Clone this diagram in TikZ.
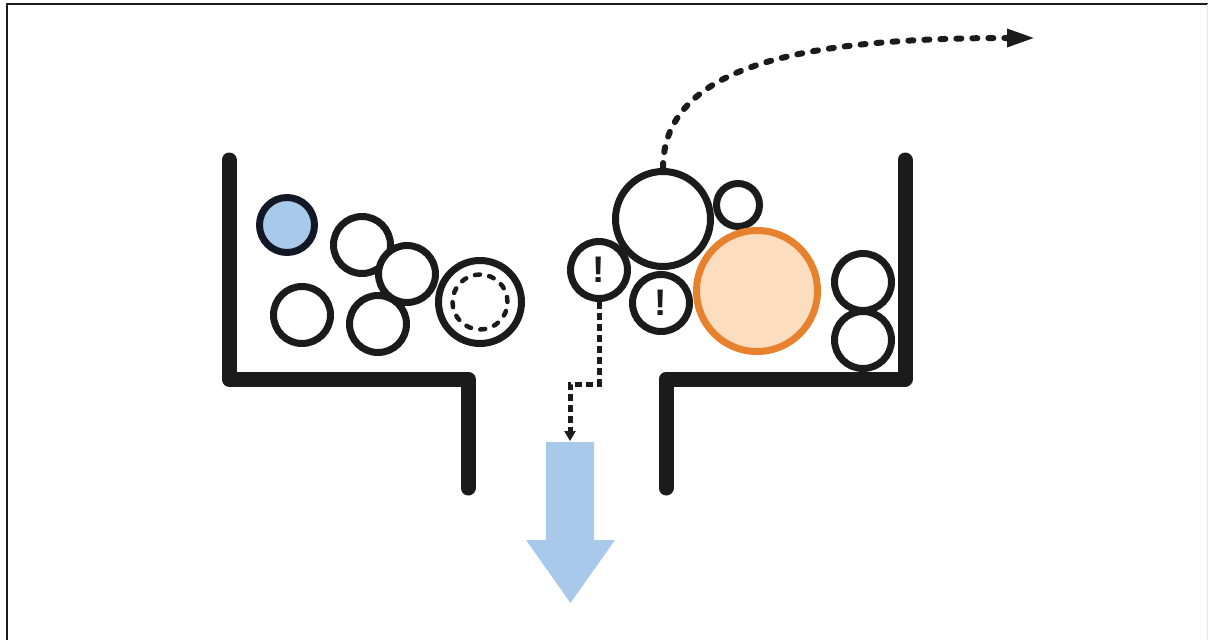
\documentclass[tikz,border=0pt]{standalone}
\usepackage{fontspec}
\setsansfont{Liberation Sans}
\usetikzlibrary{arrows.meta}
\definecolor{ink}{HTML}{1C1B1C}
\definecolor{navyink}{HTML}{141826}
\definecolor{skyblue}{HTML}{A9C9EA}
\definecolor{burnt}{HTML}{E8812D}
\definecolor{peach}{HTML}{FDDDBF}
\tikzset{
  wall/.style={line width=15pt, draw=ink, line cap=round, line join=round},
  ball/.style={circle, draw=ink, line width=7pt, fill=white, inner sep=0pt, minimum size=#1},
  bigball/.style={ball=121pt, draw=burnt, fill=peach},
  blueball/.style={ball=55pt, draw=navyink, fill=skyblue},
  warn/.style={font=\sffamily\bfseries\fontsize{37}{37}\selectfont, text=ink},
  flow/.style={draw=ink, line width=6pt, line cap=round, dash pattern=on 5pt off 11pt},
  leak/.style={draw=ink, line width=5pt, dash pattern=on 7pt off 4pt},
  ring/.style={draw=ink, line width=4.5pt, line cap=round, dash pattern=on 5pt off 9.4pt},
}
\begin{document}
\begin{tikzpicture}[x=1pt, y=-1pt]
  \useasboundingbox (0,0) rectangle (1208,640);
  % frame edges
  \draw[ink, line width=2pt] (6.5,640) -- (6.5,3.5) -- (1208,3.5);
  \draw[black!10, line width=1pt] (1207.5,4) -- (1207.5,640);

  % the two halves of the vessel
  \draw[wall] (229,160) -- (229,379) -- (468,379) -- (468,488);
  \draw[wall] (905,160) -- (905,379) -- (666,379) -- (666,488);

  % left chamber
  \node[blueball] (b1) at (287,225) {};
  \node[ball=57pt] (b2) at (362,245) {};
  \node[ball=57pt] (b3) at (407,274) {};
  \node[ball=57pt] (b4) at (302,315) {};
  \node[ball=57pt] (b5) at (378,324) {};
  \node[ball=83pt] (b6) at (480,302) {};
  \draw[ring] (b6.center) circle (27.5pt);

  % right chamber
  \node[ball=95pt] (big) at (663,219) {};
  \node[ball=43pt] (small) at (738,205) {};
  \node[ball=57pt] (e1) at (599,270) {};
  \node[warn] at (e1.center) {!};
  \node[ball=57pt] (e2) at (661,303) {};
  \node[warn] at (e2.center) {!};
  \node[bigball] (orange) at (757,291) {};
  \node[ball=57pt] (r1) at (863,282) {};
  \node[ball=57pt] (r2) at (863,340) {};

  % outlet arrow
  \fill[skyblue] (546,442) -- (594,442) -- (594,540) -- (615,540) -- (570.5,603)
    -- (526,540) -- (546,540) -- cycle;
  \coordinate (outlet) at (570,441);
  \coordinate (away) at (1035,38);

  % paths of the marked particles
  \draw[leak, -{Triangle[length=10pt, width=11pt]}] (e1.south) -- (599,384) -| (outlet);
  \draw[flow, -{Triangle[length=28pt, width=17pt]}] (big.north)
    .. controls (663,60) and (820,38) .. (away);
\end{tikzpicture}
\end{document}
